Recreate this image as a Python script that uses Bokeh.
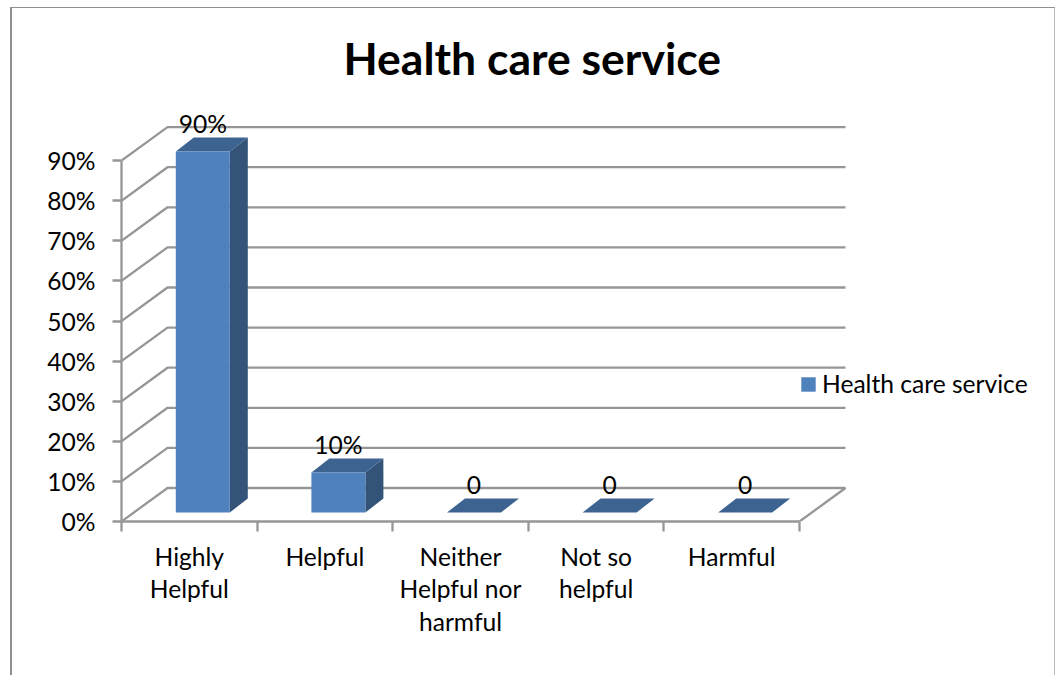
from bokeh.embed import file_html
from bokeh.resources import INLINE
from bokeh.plotting import figure
from bokeh.models import (ColumnDataSource, Range1d, LinearAxis, FixedTicker, NumeralTickFormatter,
                          Legend, LegendItem)
from bokeh.core.properties import value

title_text = "Health care service"
series_name = "Health care service"
categories = ["Highly\nHelpful", "Helpful", "Neither\nHelpful nor\nharmful", "Not so\nhelpful", "Harmful"]
values = [0.90, 0.10, 0.0, 0.0, 0.0]
value_labels = ["90%", "10%", "0", "0", "0"]
y_ticks = [0.0, 0.1, 0.2, 0.3, 0.4, 0.5, 0.6, 0.7, 0.8, 0.9]

W, H = 1055, 675
ML, MB, MT = 121, 154, 108
PX_X = 135.6      # pixels per category
PX_Y = 401.0      # pixels per 100 %
FONT = "Lato"
FS = "24.6px"
GRID = "#969696"

fw, fh = W - ML, H - MB - MT
p = figure(width=W, height=H, output_backend="svg", toolbar_location=None,
           x_range=Range1d(0, fw / PX_X), y_range=Range1d(0, fh / PX_Y),
           x_axis_location=None, y_axis_location=None,
           min_border_left=ML, min_border_right=0, min_border_bottom=MB, min_border_top=MT,
           outline_line_color=None, title=title_text)
p.grid.visible = False
p.background_fill_color = "white"
p.stylesheets = [""":host::after { content: ''; position: absolute; left: 10px; top: 7px; right: 0; bottom: 0;
  border-left: 2.5px solid #8f8f8f; border-top: 1.5px solid #8f8f8f; border-right: 1px solid #b8b8b8;
  pointer-events: none; box-sizing: border-box; }"""]

p.title.text_font = FONT
p.title.text_font_size = "44.5px"
p.title.text_font_style = "bold"
p.title.text_color = "#000000"
p.title.align = "left"
p.title.offset = 222
p.title.standoff = 49

n = len(categories)
# 3D projection offsets in data units
wall_dx, wall_dy = 46 / PX_X, 33.5 / PX_Y
bar_dx, bar_dy = 18 / PX_X, 14 / PX_Y
bar_w = 54 / PX_X
bar_shift = 13.5 / PX_X
base = 9 / PX_Y

# walls and gridlines
gx, gy = [], []
for t in y_ticks:
    gx.append([0, wall_dx, n + wall_dx])
    gy.append([t, t + wall_dy, t + wall_dy])
gx.append([n, n + wall_dx])
gy.append([0, wall_dy])
p.multi_line(gx, gy, line_color=GRID, line_width=2.3)

# bars
cx = [i + 0.5 + bar_shift for i in range(n)]
lefts = [c - bar_w / 2 for c in cx]
rights = [c + bar_w / 2 for c in cx]
tops = [base + v for v in values]
bottoms = [base] * n

side_x = [[r, r + bar_dx, r + bar_dx, r] for r in rights]
side_y = [[b, b + bar_dy, t + bar_dy, t] for b, t in zip(bottoms, tops)]
top_x = [[l, l + bar_dx, r + bar_dx, r] for l, r in zip(lefts, rights)]
top_y = [[t, t + bar_dy, t + bar_dy, t] for t in tops]
p.patches(side_x, side_y, fill_color="#335379", line_color=None)
p.patches(top_x, top_y, fill_color="#3d6391", line_color=None)
front = p.quad(left=lefts, right=rights, bottom=bottoms, top=tops, fill_color="#4f81bd", line_color=None)

# value labels
src = ColumnDataSource(dict(x=cx, y=tops, t=value_labels))
p.text(x="x", y="y", text="t", source=src, text_align="center", text_baseline="middle",
       y_offset=-28, text_font=value(FONT), text_font_size=FS, text_color="#000000")

# axes
ya = LinearAxis(ticker=FixedTicker(ticks=y_ticks), formatter=NumeralTickFormatter(format="0%"),
                bounds=(0, y_ticks[-1]))
ya.axis_line_color = GRID
ya.axis_line_width = 2.3
ya.major_tick_line_color = GRID
ya.major_tick_line_width = 2.3
ya.major_tick_in = 0
ya.major_tick_out = 9
ya.minor_tick_line_color = None
ya.major_label_standoff = 17
ya.major_label_text_font = FONT
ya.major_label_text_font_size = FS
ya.major_label_text_color = "#000000"
p.add_layout(ya, "left")

mids = [i + 0.5 for i in range(n)]
xa = LinearAxis(ticker=FixedTicker(ticks=mids, minor_ticks=list(range(n + 1))), bounds=(0, n))
xa.major_label_overrides = dict(zip(mids, categories))
xa.axis_line_color = GRID
xa.axis_line_width = 2.3
xa.major_tick_line_color = None
xa.minor_tick_line_color = GRID
xa.minor_tick_line_width = 2.3
xa.minor_tick_in = 0
xa.minor_tick_out = 10
xa.major_label_standoff = 10
xa.major_label_text_font = FONT
xa.major_label_text_font_size = FS
xa.major_label_text_color = "#000000"
xa.major_label_text_line_height = 1.13
p.add_layout(xa, "below")

# legend
leg = Legend(items=[LegendItem(label=series_name, renderers=[front])], location=(678, 123),
             background_fill_alpha=0, border_line_color=None, glyph_width=18, glyph_height=18,
             label_text_font=FONT, label_text_font_size=FS, label_text_color="#000000",
             padding=0, margin=0, label_standoff=5)
p.add_layout(leg, "center")

open("out.html", "w").write(file_html(p, INLINE))
